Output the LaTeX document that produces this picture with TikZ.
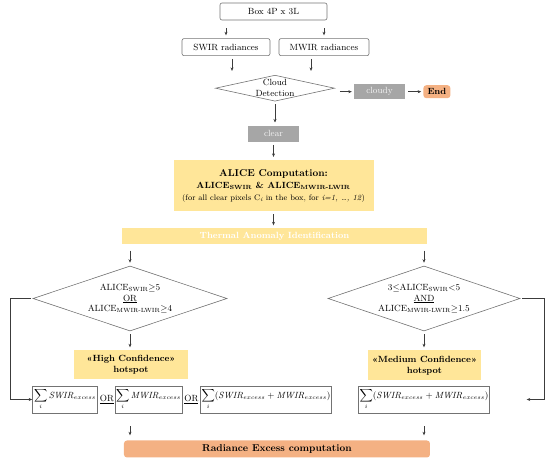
\documentclass[tikz,border=0pt]{standalone}
\usepackage{amsmath}
\usetikzlibrary{arrows.meta,positioning,shapes.geometric}
\definecolor{cyel}{RGB}{255,230,153}
\definecolor{corg}{RGB}{244,177,131}
\definecolor{cgry}{RGB}{166,166,166}
\definecolor{cln}{RGB}{115,115,115}
\definecolor{carr}{RGB}{60,60,60}
\begin{document}
\begin{tikzpicture}[
            x=1bp, y=1bp,
            >={Stealth[length=3.5pt,width=3pt]},
            nd/.style={draw=cln, line width=0.6pt, rounded corners=2pt, font=\small, inner sep=1pt, align=center},
            gr/.style={fill=cgry, text=white!88!cgry, font=\small, inner sep=1pt},
            yb/.style={fill=cyel, inner sep=1pt, align=center},
            ob/.style={fill=corg, rounded corners=3pt, font=\small\bfseries, inner sep=1pt},
            dm/.style={diamond, draw=cln, line width=0.6pt, inner sep=0pt},
            dtxt/.style={font=\small, align=center},
            sm/.style={draw=cln, line width=0.6pt, font=\small, inner sep=1pt, minimum height=27bp},
            arr/.style={->, draw=carr, line width=0.5pt, shorten <=3bp, shorten >=3bp}
          ]
          \useasboundingbox (0,0) rectangle (550,-459);
          % input and cloud screening
          \node[nd, minimum width=107bp, minimum height=17bp] (box) at (273.5,-11.5) {Box 4P x 3L};
          \node[nd, minimum width=88bp, minimum height=17bp, below=18bp of box, xshift=-47.5bp] (swir) {SWIR radiances};
          \node[nd, minimum width=90bp, minimum height=17bp, below=18bp of box, xshift=50.5bp] (mwir) {MWIR radiances};
          \node[dm, minimum width=119bp, minimum height=26bp, below=19bp of swir, xshift=49bp,
                label={[dtxt]center:Cloud\\Detection}] (cloud) {};
          \node[gr, minimum width=51bp, minimum height=15bp, right=19bp of cloud, yshift=-3.5bp] (cloudy) {cloudy};
          \node[ob, minimum width=27bp, minimum height=13bp, right=18bp of cloudy] (fin) {End};
          \node[gr, minimum width=51bp, minimum height=16bp, below=24bp of cloud, xshift=-1.5bp] (clear) {clear};
          % ALICE
          \node[yb, minimum width=200bp, minimum height=51bp, below=18bp of clear] (alice)
               {\bfseries ALICE Computation:\\
                {\small\bfseries ALICE\textsubscript{SWIR} \& ALICE\textsubscript{MWIR-LWIR}}\\
                {\footnotesize (for all clear pixels C\textsubscript{\itshape i} in the box, for \textit{i=1, \dots, 12})}};
          \node[yb, minimum width=305bp, minimum height=16bp, below=17bp of alice, xshift=1bp,
                text=white, font=\small\bfseries] (tai) {Thermal Anomaly Identification};
          % thresholds
          \node[dm, minimum width=194bp, minimum height=65bp, below=21bp of tai, xshift=-144.5bp,
                label={[dtxt]center:ALICE\textsubscript{SWIR}$\geq$5\\\underline{OR}\\ALICE\textsubscript{MWIR-LWIR}$\geq$4}] (hi) {};
          \node[dm, minimum width=192bp, minimum height=65bp, below=21bp of tai, xshift=149.5bp,
                label={[dtxt]center:3$\leq$ALICE\textsubscript{SWIR}$<$5\\\underline{AND}\\ALICE\textsubscript{MWIR-LWIR}$\geq$1.5}] (md) {};
          \node[yb, font=\small\bfseries, minimum width=114bp, minimum height=29bp, below=19bp of hi, xshift=1bp] (hic) {«High Confidence»\\hotspot};
          \node[yb, font=\small\bfseries, minimum width=113bp, minimum height=30bp, below=19bp of md, xshift=0.5bp] (mdc) {«Medium Confidence»\\hotspot};
          % radiance sums
          \node[sm, minimum width=65bp, below=6bp of hic, xshift=17.5bp] (s2) {$\displaystyle\sum_i \mathit{MWIR}_{excess}$};
          \node[sm, minimum width=65bp, left=17bp of s2] (s1) {$\displaystyle\sum_i \mathit{SWIR}_{excess}$};
          \node[sm, minimum width=128bp, right=18bp of s2] (s3) {$\displaystyle\sum_i (\mathit{SWIR}_{excess}+\mathit{MWIR}_{excess})$};
          \node[font=\small, inner sep=0pt, right=2bp of s1] (or1) {\underline{OR}};
          \node[font=\small, inner sep=0pt, right=2bp of s2] (or2) {\underline{OR}};
          \node[sm, minimum width=128bp, below=5bp of mdc, xshift=-0.5bp] (s4) {$\displaystyle\sum_i (\mathit{SWIR}_{excess}+\mathit{MWIR}_{excess})$};
          \coordinate[right=37bp of s4.east] (mdback);
          \node[ob, font=\bfseries, minimum width=306bp, minimum height=17bp, below=27bp of s3, xshift=11bp] (rad) {Radiance Excess computation};
          % connectors
          \draw[arr, shorten <=8bp] (box.south -| swir) -- (swir);
          \draw[arr, shorten <=8bp] (box.south -| mwir) -- (mwir);
          \draw[arr, shorten >=4bp] ([xshift=6bp]swir.south) -- ([xshift=6bp]swir.south |- cloud.north);
          \draw[arr, shorten >=4bp] ([xshift=-13bp]mwir.south) -- ([xshift=-13bp]mwir.south |- cloud.north);
          \draw[arr, shorten <=5bp, shorten >=2bp] (cloud.east |- cloudy) -- (cloudy);
          \draw[arr, shorten >=2bp] (cloudy) -- (fin);
          \draw[arr] (cloud.south) -- (cloud.south |- clear.north);
          \draw[arr] (clear) -- (alice);
          \draw[arr] (alice.south) -- (alice.south |- tai.north);
          \draw[arr, shorten <=6bp] (tai.south -| hi) -- (hi);
          \draw[arr, shorten <=6bp] (tai.south -| md) -- (md);
          \draw[arr] (hi.south) -- (hi.south |- hic.north);
          \draw[arr] (md.south) -- (md.south |- mdc.north);
          \draw[arr, shorten <=13bp, shorten >=5bp] (s2.south -| hi) -- (rad.north -| hi);
          \draw[arr, shorten <=13bp, shorten >=5bp] (s4.south) -- (s4.south |- rad.north);
          \draw[arr, shorten <=2bp, shorten >=0pt] (hi.west) -- ++(-22bp,0) |- (s1.west);
          \draw[arr, shorten <=2bp, shorten >=0pt] (md.east) -- ++(24bp,0) |- (mdback);
        \end{tikzpicture}
\end{document}
